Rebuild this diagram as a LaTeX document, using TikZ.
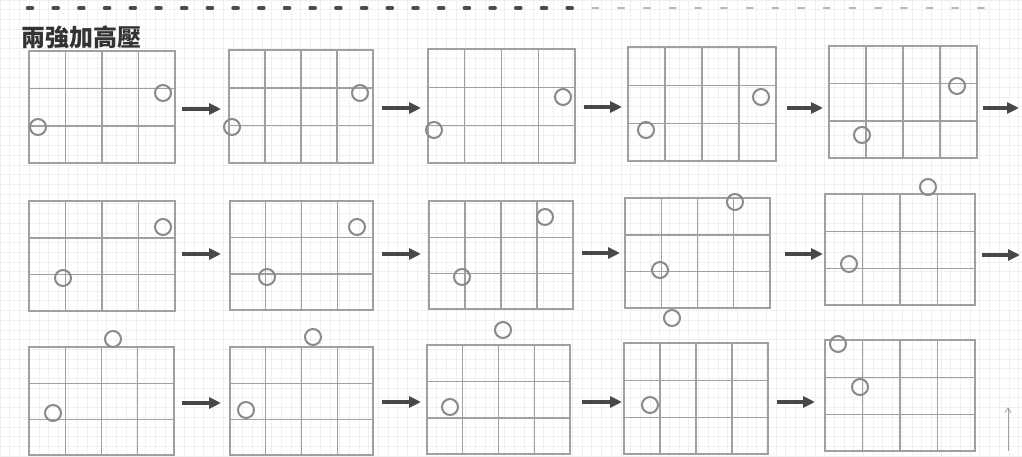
\documentclass[tikz,border=0pt]{standalone}
\usepackage{fontspec}
\newfontfamily\cjk{Noto Sans CJK TC}
\usetikzlibrary{calc,arrows.meta}
\definecolor{paneline}{HTML}{A0A0A0}
\definecolor{ringcol}{HTML}{8A8A8A}
\definecolor{arrcol}{HTML}{484848}
\definecolor{bgline}{HTML}{F0F0F0}
\definecolor{dotdark}{HTML}{4C4C4C}
\definecolor{dotlight}{HTML}{B8B8B8}
\tikzset{
  panelbox/.style={draw=paneline, line width=1.5pt, rectangle, inner sep=0pt, outer sep=0pt},
  pline/.style={draw=paneline, line width=1.4pt},
  ring/.style={draw=ringcol, line width=2pt, circle, minimum size=16pt, inner sep=0pt},
  flowarr/.style={draw=arrcol, line width=3.5pt, -{Triangle[length=12pt,width=11pt]}},
  thinarr/.style={draw=ringcol!80, line width=0.8pt, -{Straight Barb[length=5pt,width=6pt]}},
  holemark/.style={line width=3.5pt, line cap=round},
}
\newcommand{\gridpanel}[5]{%
  \node[panelbox, minimum width={(#4-#2)*1pt}, minimum height={(#5-#3)*1pt}] (#1) at ({(#2+#4)/2},{(#3+#5)/2}) {};
  \foreach \f in {0.25,0.5,0.75}
    \draw[pline] ($(#1.north west)!\f!(#1.north east)$) -- ($(#1.south west)!\f!(#1.south east)$);
  \foreach \f in {0.337,0.67}
    \draw[pline] ($(#1.north west)!\f!(#1.south west)$) -- ($(#1.north east)!\f!(#1.south east)$);
}
\newcommand{\flowstep}[4]{%
  \coordinate (#1s) at (#2,#4);
  \coordinate (#1e) at (#3,#4);
  \draw[flowarr] (#1s) -- (#1e);
}
\begin{document}
\begin{tikzpicture}[x=1pt,y=-1pt]
\useasboundingbox (0,0) rectangle (1022,457);
\fill[white] (0,0) rectangle (1022,457);
\draw[bgline, line width=0.6pt, step=9.7pt] (0,0) grid (1022,457);
% binder marks along the top
\foreach \k in {0,...,21}
  \draw[holemark, dotdark] ({30+25.7*\k-2.5},8) -- ({30+25.7*\k+2.5},8);
\foreach \k in {22,...,37}
  \draw[holemark, dotlight, line width=2pt] ({30+25.7*\k-3},8) -- ({30+25.7*\k+3},8);
% title
\node[font=\cjk\bfseries\fontsize{24}{26}\selectfont, text=black!80, anchor=west, inner sep=0pt] (title) at (21,37) {兩強加高壓};
% panels
\gridpanel{p1}{29}{51}{175}{163}
\gridpanel{p2}{229}{50}{373}{163}
\gridpanel{p3}{428}{49}{575}{163}
\gridpanel{p4}{628}{47}{776}{161}
\gridpanel{p5}{829}{46}{977}{158}
\gridpanel{p6}{29}{201}{175}{311}
\gridpanel{p7}{230}{201}{373}{310}
\gridpanel{p8}{429}{201}{573}{309}
\gridpanel{p9}{625}{198}{770}{308}
\gridpanel{p10}{825}{194}{975}{305}
\gridpanel{p11}{29}{347}{174}{455}
\gridpanel{p12}{230}{347}{373}{455}
\gridpanel{p13}{427}{345}{570}{454}
\gridpanel{p14}{624}{343}{768}{454}
\gridpanel{p15}{825}{340}{975}{451}
% circles
\node[ring] (c1a) at (163,93) {};  \node[ring] (c1b) at (38,127) {};
\node[ring] (c2a) at (360,93) {};  \node[ring] (c2b) at (232,127) {};
\node[ring] (c3a) at (563,97) {};  \node[ring] (c3b) at (434,130) {};
\node[ring] (c4a) at (761,97) {};  \node[ring] (c4b) at (646,130) {};
\node[ring] (c5a) at (957,86) {};  \node[ring] (c5b) at (862,135) {};
\node[ring] (c6a) at (163,227) {}; \node[ring] (c6b) at (63,278) {};
\node[ring] (c7a) at (357,227) {}; \node[ring] (c7b) at (267,277) {};
\node[ring] (c8a) at (545,217) {}; \node[ring] (c8b) at (462,277) {};
\node[ring] (c9a) at (735,202) {}; \node[ring] (c9b) at (660,270) {};
\node[ring] (c10a) at (928,187) {}; \node[ring] (c10b) at (849,264) {};
\node[ring] (c11a) at (113,339) {}; \node[ring] (c11b) at (53,413) {};
\node[ring] (c12a) at (313,337) {}; \node[ring] (c12b) at (246,410) {};
\node[ring] (c13a) at (503,330) {}; \node[ring] (c13b) at (450,407) {};
\node[ring] (c14a) at (672,318) {}; \node[ring] (c14b) at (650,405) {};
\node[ring] (c15a) at (838,344) {}; \node[ring] (c15b) at (860,387) {};
% arrows
\flowstep{a1}{182}{221}{109}
\flowstep{a2}{382}{421}{108}
\flowstep{a3}{584}{622}{107}
\flowstep{a4}{787}{823}{108}
\flowstep{a5}{983}{1019}{108}
\flowstep{a6}{182}{221}{254}
\flowstep{a7}{382}{421}{254}
\flowstep{a8}{582}{620}{253}
\flowstep{a9}{785}{823}{254}
\flowstep{a10}{982}{1020}{255}
\flowstep{a11}{182}{221}{403}
\flowstep{a12}{382}{421}{402}
\flowstep{a13}{582}{622}{402}
\flowstep{a14}{777}{815}{402}
% small up arrow
\coordinate (ups) at (1008,451);
\coordinate (upe) at (1008,407);
\draw[thinarr] (ups) -- (upe);
\end{tikzpicture}
\end{document}
